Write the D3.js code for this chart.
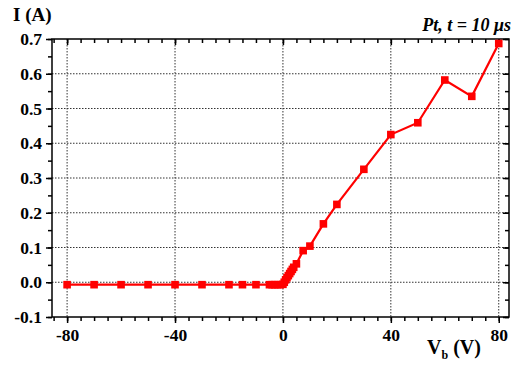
<!DOCTYPE html>
<html><head><meta charset="utf-8">
<script src="https://cdn.jsdelivr.net/npm/d3@7"></script>
<style>body{margin:0;background:#fff}svg{display:block}</style>
</head><body>
<script>
const voltage = [-80,-70,-60,-50,-40,-30,-20,-15,-10,-5,-4,-3,-2,-1,0,0.5,1,1.5,2,2.5,3,3.5,4,5,7.5,10,15,20,30,40,50,60,70,80];
const current = [-0.007,-0.007,-0.007,-0.007,-0.007,-0.007,-0.007,-0.007,-0.007,-0.007,-0.007,-0.007,-0.007,-0.007,-0.006,0.0,0.007,0.013,0.019,0.025,0.031,0.037,0.043,0.053,0.091,0.104,0.168,0.224,0.325,0.425,0.459,0.582,0.535,0.687];
const xTicks = [-80,-40,0,40,80];
const xTickLabels = ["-80","-40","0","40","80"];
const yTicks = [-0.1,0.0,0.1,0.2,0.3,0.4,0.5,0.6,0.7];
const yTickLabels = ["-0.1","0.0","0.1","0.2","0.3","0.4","0.5","0.6","0.7"];
const xMinorTicks = d3.range(-85,84,5);
const yMinorTicks = d3.range(-0.1,0.7001,0.05);

const W=519,H=365, L=52, R=509, T=39, B=317;
const svg=d3.select("body").append("svg").attr("width",W).attr("height",H);
const x=d3.scaleLinear().domain([-85.6,83.8]).range([L,R]);
const y=d3.scaleLinear().domain([-0.1,0.7]).range([B,T]);
const font="'Liberation Serif','Times New Roman',serif";

// grid
const g=svg.append("g");
g.selectAll(".gx").data(xTicks).enter().append("line")
 .attr("x1",d=>x(d)).attr("x2",d=>x(d)).attr("y1",T).attr("y2",B)
 .attr("stroke","#333").attr("stroke-width",1).attr("stroke-dasharray","1.5,1.5");
g.selectAll(".gy").data(yTicks.filter(d=>d>-0.1&&d<0.7)).enter().append("line")
 .attr("y1",d=>y(d)).attr("y2",d=>y(d)).attr("x1",L).attr("x2",R)
 .attr("stroke","#333").attr("stroke-width",1).attr("stroke-dasharray","1.5,1.5");

// axes
svg.append("g").attr("transform",`translate(0,${B})`)
 .call(d3.axisBottom(x).tickValues(xTicks).tickSize(6).tickPadding(6).tickFormat((d,i)=>xTickLabels[i]));
svg.append("g").attr("transform",`translate(0,${B})`)
 .call(d3.axisBottom(x).tickValues(xMinorTicks).tickSize(4).tickFormat(""));
svg.append("g").attr("transform",`translate(0,${T})`)
 .call(d3.axisBottom(x).tickValues(xTicks).tickSize(6).tickFormat(""));
svg.append("g").attr("transform",`translate(0,${T})`)
 .call(d3.axisBottom(x).tickValues(xMinorTicks).tickSize(4).tickFormat(""));
svg.append("g").attr("transform",`translate(${L},0)`)
 .call(d3.axisLeft(y).tickValues(yTicks).tickSize(6).tickPadding(4).tickFormat((d,i)=>yTickLabels[i]));
svg.append("g").attr("transform",`translate(${L},0)`)
 .call(d3.axisLeft(y).tickValues(yMinorTicks).tickSize(4).tickFormat(""));
svg.append("g").attr("transform",`translate(${R},0)`)
 .call(d3.axisLeft(y).tickValues(yTicks).tickSize(6).tickFormat(""));
svg.append("g").attr("transform",`translate(${R},0)`)
 .call(d3.axisLeft(y).tickValues(yMinorTicks).tickSize(4).tickFormat(""));
svg.selectAll(".domain").remove();
svg.selectAll(".tick line").attr("stroke","#000").attr("stroke-width",1.5);
svg.selectAll(".tick text").attr("font-family",font).attr("font-weight","bold").attr("font-size",17.5).attr("fill","#000");

// frame
svg.append("rect").attr("x",L).attr("y",T).attr("width",R-L).attr("height",B-T)
 .attr("fill","none").attr("stroke","#000").attr("stroke-width",1.5);

// data
const pts=voltage.map((v,i)=>({v,c:current[i]}));
svg.append("path").datum(pts)
 .attr("d",d3.line().x(d=>x(d.v)).y(d=>y(d.c)))
 .attr("fill","none").attr("stroke","#ff0000").attr("stroke-width",2.2);
svg.selectAll(".m").data(pts).enter().append("rect")
 .attr("x",d=>x(d.v)-3.8).attr("y",d=>y(d.c)-3.8).attr("width",7.6).attr("height",7.6)
 .attr("fill","#ff0000");

// labels
svg.append("text").attr("x",13).attr("y",21).attr("font-family",font).attr("font-weight","bold")
 .attr("font-size",19).text("I (A)");
svg.append("text").attr("x",511).attr("y",31).attr("text-anchor","end").attr("font-family",font)
 .attr("font-weight","bold").attr("font-style","italic").attr("font-size",18).text("Pt, t = 10 μs");
const xl=svg.append("text").attr("x",427).attr("y",354).attr("font-family",font).attr("font-weight","bold").attr("font-size",20);
xl.append("tspan").text("V");
xl.append("tspan").attr("font-size",12).attr("dy",5).text("b");
xl.append("tspan").attr("dy",-5).text(" (V)");
</script>
</body></html>
